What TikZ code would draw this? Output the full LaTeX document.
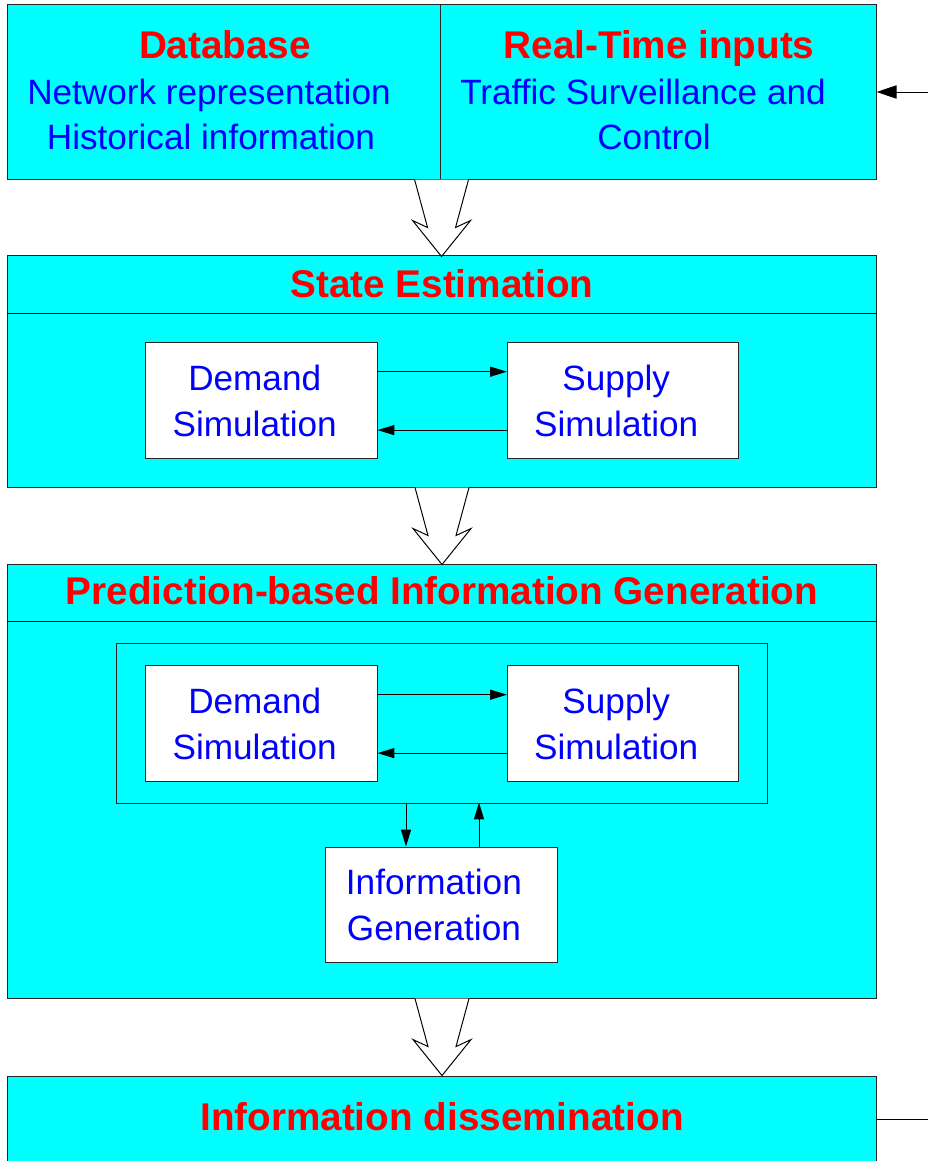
\documentclass[tikz,border=0pt]{standalone}
\usepackage{fontspec}
\setmainfont{Liberation Sans}
\usetikzlibrary{arrows.meta,positioning}
\definecolor{panelcyan}{RGB}{0,255,255}
\tikzset{
  panel/.style={draw=black!85, fill=panelcyan, line width=0.7pt, inner sep=0pt},
  simbox/.style={draw=black!85, fill=white, line width=0.7pt, minimum width=5.775cm,
    minimum height=2.875cm},
  simtext/.style={align=center, text=blue, font=\bodyfont},
  textline/.style={text=blue, font=\bodyfont, text height=18pt, text depth=5pt},
  heading/.style={text=red, font=\headfont},
  link/.style={line width=0.7pt, -{Triangle[length=0.42cm, width=0.25cm]}},
  hollow/.style={draw=black, fill=white, line width=0.7pt, line join=miter}
}
\newcommand{\bodyfont}{\fontsize{25}{32.7}\selectfont}
\newcommand{\headfont}{\fontsize{27.5}{32.7}\selectfont\bfseries}
\newcommand{\hollowarrow}[1]{%
  \begin{scope}[shift={(#1)}]
    \draw[hollow] (-27,0) -- (-14,48) -- (-29,41) -- (0,77) -- (29,41) -- (14,48) -- (27,0);
  \end{scope}}

\begin{document}
\begin{tikzpicture}[x=0.025cm, y=-0.025cm]
  \clip (0,0) rectangle (928,1161);
  \fill[white] (0,0) rectangle (928,1161);

  % inputs
  \node[panel, minimum width=10.825cm, minimum height=4.35cm] (dbase) at (224.5,92) {};
  \node[panel, minimum width=10.875cm, minimum height=4.35cm] (inputs) at (658.5,92) {};
  \node[heading, text height=20pt, text depth=6pt] at (225,49) {Database};
  \node[textline] at (209,95) {Network representation};
  \node[textline] at (211,140) {Historical information};
  \node[heading, text height=20pt, text depth=6pt] at (659,49) {Real-Time inputs};
  \node[textline] at (643,95) {Traffic Surveillance and};
  \node[textline] at (654,140) {Control};
  \coordinate (feed) at (928,92);
  \draw[line width=0.7pt, -{Triangle[length=0.5cm, width=0.33cm]}] (feed) -- (inputs.east);

  % state estimation
  \node[panel, minimum width=21.7cm, minimum height=5.775cm] (state) at (442,371.5) {};
  \draw[line width=0.7pt] ([yshift=-1.45cm]state.north west) -- ([yshift=-1.45cm]state.north east);
  \node[heading] at (442,284) {State Estimation};
  \node[simbox] (dem1) at (261.5,400.5) {};
  \node[simbox] (sup1) at (623,400.5) {};
  \node[simtext] at ([xshift=-0.17cm]dem1.center) {Demand\\Simulation};
  \node[simtext] at ([xshift=-0.17cm]sup1.center) {Supply\\Simulation};
  \draw[link] ([yshift=0.72cm]dem1.east) -- ([yshift=0.72cm]sup1.west);
  \draw[link] ([yshift=-0.74cm]sup1.west) -- ([yshift=-0.74cm]dem1.east);

  % prediction
  \node[panel, minimum width=21.7cm, minimum height=10.825cm] (pred) at (442,781.5) {};
  \draw[line width=0.7pt] ([yshift=-1.425cm]pred.north west) -- ([yshift=-1.425cm]pred.north east);
  \node[heading] at (442,591) {Prediction-based Information Generation};
  \node[panel, minimum width=16.25cm, minimum height=3.975cm] (loop) at (442,723.5) {};
  \node[simbox] (dem2) at (261.5,723.5) {};
  \node[simbox] (sup2) at (623,723.5) {};
  \node[simtext] at ([xshift=-0.17cm]dem2.center) {Demand\\Simulation};
  \node[simtext] at ([xshift=-0.17cm]sup2.center) {Supply\\Simulation};
  \draw[link] ([yshift=0.72cm]dem2.east) -- ([yshift=0.72cm]sup2.west);
  \draw[link] ([yshift=-0.74cm]sup2.west) -- ([yshift=-0.74cm]dem2.east);
  \node[simbox] (info) at (441.5,904.5) {};
  \node[simtext] at ([xshift=-0.19cm]info.center) {Information\\Generation};
  \draw[link] (info.north -| 406,0) ++(0,-44) -- (info.north -| 406,0);
  \draw[link] (info.north -| 479,0) -- ++(0,-44);

  % dissemination
  \node[panel, minimum width=21.7cm, minimum height=2.35cm] (diss) at (442,1123) {};
  \node[heading] at (442,1117) {Information dissemination};
  \coordinate (outflow) at (928,1119);
  \draw[line width=0.7pt] (diss.east |- outflow) -- (outflow);

  % wide arrows
  \hollowarrow{dbase.south east}
  \hollowarrow{state.south}
  \hollowarrow{pred.south}
\end{tikzpicture}
\end{document}
